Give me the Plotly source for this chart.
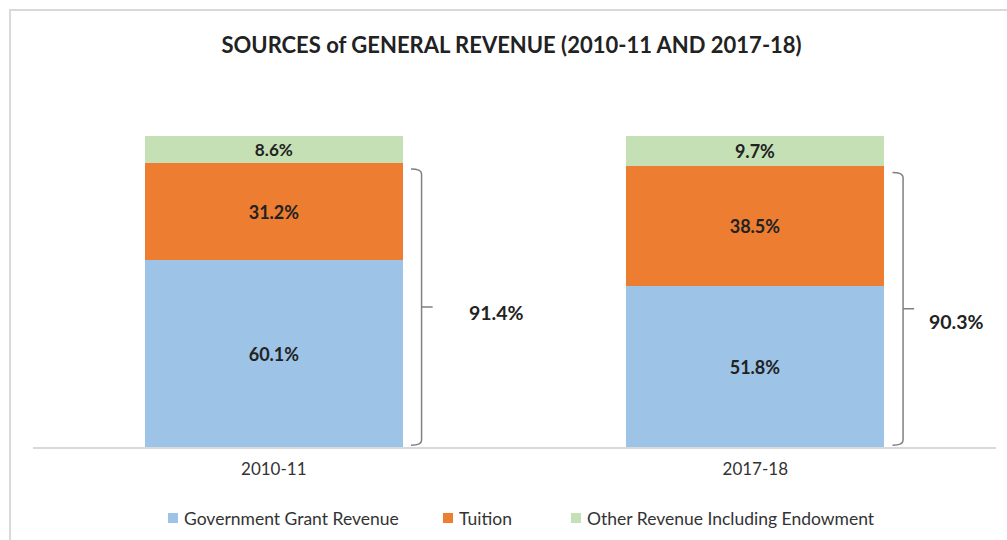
import plotly.graph_objects as go

# Revenue shares (% of general revenue) by fiscal year
years = ["2010-11", "2017-18"]
government_grant = [60.1, 51.8]
tuition = [31.2, 38.5]
other_revenue = [8.6, 9.7]
combined_share = [91.4, 90.3]  # grant + tuition, shown beside each bar

series_names = ["Government Grant Revenue", "Tuition", "Other Revenue Including Endowment"]
series_colors = ["#9DC3E6", "#ED7D31", "#C5E0B4"]

FONT = "Lato"
TEXT_COLOR = "#222222"

W, H = 1007, 540
M_L, M_R, M_T, M_B = 33, 11, 136, 93
PLOT_W = W - M_L - M_R
PLOT_H = H - M_T - M_B


def px_to_paper(px, py):
    """Convert page pixel position to plot-paper coordinates."""
    return (px - M_L) / PLOT_W, (H - M_B - py) / PLOT_H


x_pos = list(range(len(years)))

fig = go.Figure()
for name, vals, color in zip(series_names, [government_grant, tuition, other_revenue], series_colors):
    fig.add_trace(go.Bar(
        x=x_pos,
        y=vals,
        name=name,
        marker=dict(color=color, line=dict(width=0)),
        width=0.536,
        text=[f"{v:.1f}%" for v in vals],
        textposition="inside",
        insidetextanchor="middle",
        textangle=0,
        textfont=dict(family=FONT, size=18, color=TEXT_COLOR, weight="bold"),
        hoverinfo="skip",
        showlegend=False,
    ))

# Brackets grouping grant + tuition, with the combined share label
shapes = []
annotations = []
label_dx = [0.463, 0.418]
label_dy = [-1.9, -4.2]
for i, total in enumerate(combined_share):
    top = total - 2.0
    bottom = 0.6
    mid = (top + bottom) / 2
    xb = i + 0.307
    xh = i + 0.285
    xt = i + 0.330
    ry = 1.6
    path = (
        f"M {xh},{top} Q {xb},{top} {xb},{top - ry} "
        f"L {xb},{bottom + ry} Q {xb},{bottom} {xh},{bottom} "
        f"M {xb},{mid} L {xt},{mid}"
    )
    shapes.append(dict(type="path", xref="x", yref="y", path=path,
                       line=dict(color="#808080", width=1.5)))
    annotations.append(dict(
        x=i + label_dx[i], y=mid + label_dy[i], xref="x", yref="y",
        text=f"{total:.1f}%", showarrow=False,
        font=dict(family=FONT, size=19.5, color=TEXT_COLOR, weight="bold"),
    ))

# Legend row drawn as swatches + labels
legend_swatch_x = [173, 448, 576]
legend_y = 518
for name, color, sx in zip(series_names, series_colors, legend_swatch_x):
    x0, y0 = px_to_paper(sx - 5, legend_y + 5)
    x1, y1 = px_to_paper(sx + 5, legend_y - 5)
    shapes.append(dict(type="rect", xref="paper", yref="paper",
                       x0=x0, x1=x1, y0=y0, y1=y1,
                       fillcolor=color, line=dict(width=0)))
    tx, ty = px_to_paper(sx + 9, legend_y)
    annotations.append(dict(
        x=tx, y=ty, xref="paper", yref="paper", xanchor="left", yanchor="middle",
        text=name, showarrow=False,
        font=dict(family=FONT, size=17.5, color="#333333"),
    ))

# Light frame around the chart area
fx0, fy1 = px_to_paper(10, 10)
shapes.append(dict(type="rect", xref="paper", yref="paper",
                   x0=fx0, x1=1.2, y0=-1.0, y1=fy1,
                   line=dict(color="#D9D9D9", width=2), fillcolor="rgba(0,0,0,0)",
                   layer="below"))

fig.update_layout(
    width=W,
    height=H,
    barmode="stack",
    paper_bgcolor="white",
    plot_bgcolor="white",
    margin=dict(l=M_L, r=M_R, t=M_T, b=M_B),
    title=dict(
        text="SOURCES of GENERAL REVENUE (2010-11 AND 2017-18)",
        x=0.508, xanchor="center", y=0.917, yanchor="middle",
        font=dict(family=FONT, size=22, color=TEXT_COLOR, weight="bold"),
    ),
    xaxis=dict(
        range=[-0.5, 1.5],
        tickvals=x_pos,
        ticktext=years,
        showline=True,
        linecolor="#D9D9D9",
        linewidth=1.5,
        showgrid=False,
        zeroline=False,
        ticks="",
        ticklabelstandoff=6,
        tickfont=dict(family=FONT, size=17, color="#333333"),
    ),
    yaxis=dict(
        range=[0, 100],
        visible=False,
        showgrid=False,
        zeroline=False,
    ),
    shapes=shapes,
    annotations=annotations,
    showlegend=False,
    bargap=0,
)

fig.write_html("out.html")
